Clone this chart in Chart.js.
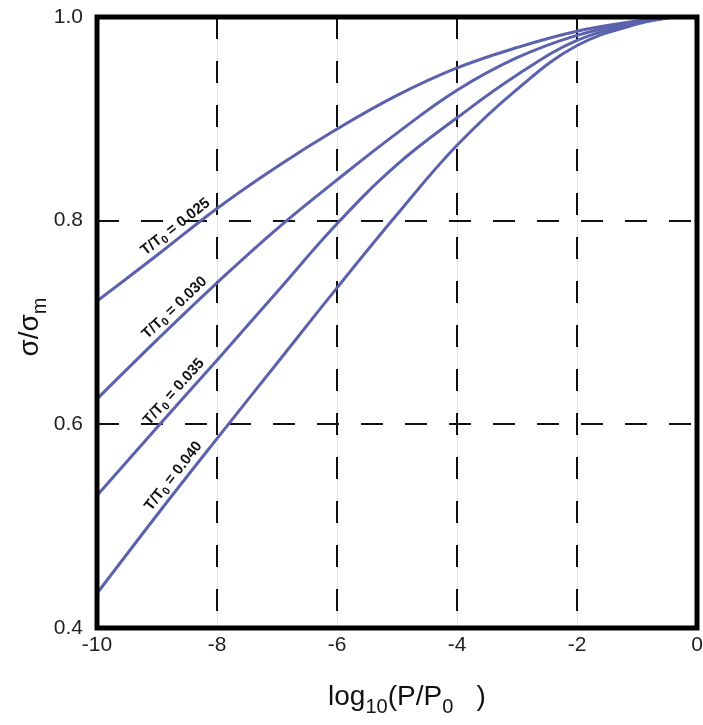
<!DOCTYPE html>
<html>
<head>
<meta charset="utf-8">
<script src="https://cdn.jsdelivr.net/npm/chart.js@4/dist/chart.umd.min.js"></script>
<style>
  html, body { margin: 0; padding: 0; background: #fff; }
  #wrap { width: 703px; height: 725px; }
</style>
</head>
<body>
<div id="wrap"><canvas id="grafico" width="703" height="725"></canvas></div>
<script>
// Datos (eje x = log10(P/P0))
const xValores = [-10, -9, -8, -7, -6, -5, -4, -3, -2, -1, -0.4];
const curva025 = [0.721, 0.766, 0.812, 0.853, 0.890, 0.923, 0.950, 0.970, 0.986, 0.996, 1.0];
const curva030 = [0.625, 0.683, 0.739, 0.792, 0.840, 0.886, 0.928, 0.960, 0.982, 0.995, 1.0];
const curva035 = [0.530, 0.597, 0.663, 0.730, 0.797, 0.855, 0.901, 0.943, 0.977, 0.994, 1.0];
const curva040 = [0.434, 0.511, 0.586, 0.660, 0.734, 0.806, 0.874, 0.929, 0.972, 0.993, 1.0];
const etiquetas = ['0.025', '0.030', '0.035', '0.040'];
const ticksX = [-10, -8, -6, -4, -2, 0];
const ticksY = [0.4, 0.6, 0.8, 1.0];
const xEtiqueta = -8.58; // posición de las etiquetas sobre cada curva

const colorCurva = '#5b62ad';
const fuente = "'Liberation Sans', Arial, Helvetica, sans-serif";

const series = [curva025, curva030, curva035, curva040];
const datasets = series.map((vals, i) => ({
    label: 'T/T0 = ' + etiquetas[i],
    data: xValores.map((x, j) => ({ x: x, y: vals[j] })),
    borderColor: colorCurva,
    borderWidth: 3,
    pointRadius: 0,
    fill: false,
    tension: 0.4
}));

// Plugin: líneas grises de fondo, marco grueso, etiquetas de curvas y títulos con subíndices
const decoracion = {
    id: 'decoracion',
    beforeDraw(chart) {
        const { ctx, chartArea: a, scales } = chart;
        ctx.save();
        ctx.strokeStyle = '#e4e4e4';
        ctx.lineWidth = 1;
        ticksX.forEach(v => {
            const px = Math.round(scales.x.getPixelForValue(v)) + 0.5;
            ctx.beginPath();
            ctx.moveTo(px, a.top);
            ctx.lineTo(px, a.bottom);
            ctx.stroke();
        });
        ctx.restore();
    },
    afterDatasetsDraw(chart) {
        const { ctx, chartArea: a, scales } = chart;
        ctx.save();

        // etiquetas rotadas sobre cada curva
        chart.data.datasets.forEach((ds, i) => {
            const pts = ds.data;
            let k = 0;
            while (k < pts.length - 2 && pts[k + 1].x < xEtiqueta) k++;
            const p0 = pts[k], p1 = pts[k + 1];
            const t = (xEtiqueta - p0.x) / (p1.x - p0.x);
            const yv = p0.y + (p1.y - p0.y) * t;
            const px = scales.x.getPixelForValue(xEtiqueta);
            const py = scales.y.getPixelForValue(yv);
            const dx = scales.x.getPixelForValue(p1.x) - scales.x.getPixelForValue(p0.x);
            const dy = scales.y.getPixelForValue(p1.y) - scales.y.getPixelForValue(p0.y);
            const ang = Math.atan2(dy, dx);

            ctx.save();
            ctx.translate(px, py);
            ctx.rotate(ang);
            ctx.translate(0, -11);
            ctx.fillStyle = '#111';
            ctx.textBaseline = 'middle';
            const fPrin = 'bold 15px ' + fuente;
            const fSub = 'bold 11px ' + fuente;
            ctx.font = fPrin;
            const w1 = ctx.measureText('T/T').width;
            const w3 = ctx.measureText(' = ' + etiquetas[i]).width;
            ctx.font = fSub;
            const w2 = ctx.measureText('0').width;
            let x0 = -(w1 + w2 + w3) / 2;
            ctx.font = fPrin;
            ctx.fillText('T/T', x0, 0);
            ctx.font = fSub;
            ctx.fillText('0', x0 + w1, 4);
            ctx.font = fPrin;
            ctx.fillText(' = ' + etiquetas[i], x0 + w1 + w2, 0);
            ctx.restore();
        });

        // marco grueso
        ctx.strokeStyle = '#000';
        ctx.lineWidth = 5;
        ctx.strokeRect(a.left, a.top, a.right - a.left, a.bottom - a.top);

        // título eje x: log10(P/P0  )
        ctx.fillStyle = '#111';
        ctx.textBaseline = 'alphabetic';
        const grande = '28px ' + fuente;
        const chico = '20px ' + fuente;
        const partesX = [['log', grande, 0], ['10', chico, 8], ['(P/P', grande, 0], ['0', chico, 8], ['   )', grande, 0]];
        let total = 0;
        partesX.forEach(p => { ctx.font = p[1]; total += ctx.measureText(p[0]).width; });
        let cx = (a.left + a.right) / 2 - total / 2 + 10;
        const base = 705;
        partesX.forEach(p => {
            ctx.font = p[1];
            ctx.fillText(p[0], cx, base + p[2]);
            cx += ctx.measureText(p[0]).width;
        });

        // título eje y: σ/σm
        ctx.save();
        ctx.translate(38, 327);
        ctx.rotate(-Math.PI / 2);
        const partesY = [['σ/σ', grande, 0], ['m', chico, 8]];
        total = 0;
        partesY.forEach(p => { ctx.font = p[1]; total += ctx.measureText(p[0]).width; });
        cx = -total / 2;
        partesY.forEach(p => {
            ctx.font = p[1];
            ctx.fillText(p[0], cx, p[2]);
            cx += ctx.measureText(p[0]).width;
        });
        ctx.restore();

        ctx.restore();
    }
};

const ctx = document.getElementById('grafico').getContext('2d');
new Chart(ctx, {
    type: 'line',
    data: { datasets: datasets },
    options: {
        responsive: false,
        animation: false,
        layout: { padding: { top: 17, right: 6, left: 0, bottom: 0 } },
        plugins: {
            legend: { display: false },
            tooltip: { enabled: false }
        },
        scales: {
            x: {
                type: 'linear',
                min: -10,
                max: 0,
                afterBuildTicks: s => { s.ticks = ticksX.map(v => ({ value: v })); },
                afterFit: s => { s.height = 97; s.paddingLeft = 0; s.paddingRight = 0; },
                ticks: {
                    color: '#222',
                    font: { family: fuente, size: 21 },
                    padding: 5,
                    maxRotation: 0,
                    callback: v => String(v)
                },
                grid: { color: '#111', lineWidth: 2, drawTicks: false },
                border: { display: false, dash: [22, 22] }
            },
            y: {
                type: 'linear',
                min: 0.4,
                max: 1.0,
                afterBuildTicks: s => { s.ticks = ticksY.map(v => ({ value: v })); },
                afterFit: s => { s.width = 97; s.paddingTop = 0; s.paddingBottom = 0; },
                ticks: {
                    color: '#222',
                    font: { family: fuente, size: 21 },
                    padding: 14,
                    callback: v => v.toFixed(1)
                },
                grid: { color: '#111', lineWidth: 2, drawTicks: false },
                border: { display: false, dash: [22, 22] }
            }
        }
    },
    plugins: [decoracion]
});
</script>
</body>
</html>
